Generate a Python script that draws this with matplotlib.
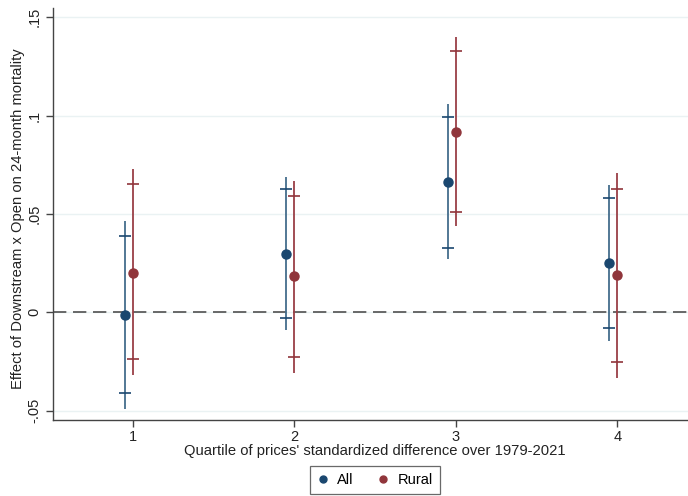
import matplotlib
matplotlib.use("Agg")
import matplotlib.pyplot as plt
from matplotlib.lines import Line2D
import numpy as np

quartiles = [1, 2, 3, 4]
xtick_labels = ["1", "2", "3", "4"]
yticks = [-0.05, 0, 0.05, 0.1, 0.15]
ytick_labels = ["-.05", "0", ".05", ".1", ".15"]

all_est = [-0.0014, 0.0298, 0.0663, 0.0249]
all_lo95 = [-0.0490, -0.0090, 0.0270, -0.0146]
all_hi95 = [0.0464, 0.0688, 0.1058, 0.0648]
all_lo90 = [-0.0412, -0.0027, 0.0329, -0.0081]
all_hi90 = [0.0388, 0.0626, 0.0995, 0.0583]

rur_est = [0.0202, 0.0182, 0.0917, 0.0188]
rur_lo95 = [-0.0319, -0.0307, 0.0436, -0.0332]
rur_hi95 = [0.0727, 0.0668, 0.1400, 0.0707]
rur_lo90 = [-0.0239, -0.0230, 0.0512, -0.0251]
rur_hi90 = [0.0650, 0.0592, 0.1326, 0.0626]

plt.rcParams['font.family'] = ['Liberation Sans', 'DejaVu Sans']

fig = plt.figure(figsize=(6.88, 4.96), dpi=100)
ax = fig.add_axes([52.7/688, (496-420)/496, 1 - 52.7/688, (420-8)/496])

blue = "#1a476f"
red = "#90353b"
blue_line = "#446d8c"
red_line = "#9a3f46"

for yt in yticks:
    ax.axhline(yt, color="#eaf2f3", lw=1.0, zorder=0)

ax.axhline(0, color="#505050", lw=1.2, ls=(0, (8, 4)), zorder=1)

x = np.array(quartiles, dtype=float)
series = [
    (x - 0.05, all_est, all_lo95, all_hi95, all_lo90, all_hi90, blue, blue_line),
    (x, rur_est, rur_lo95, rur_hi95, rur_lo90, rur_hi90, red, red_line),
]
for xs, est, lo95, hi95, lo90, hi90, c, lc in series:
    ax.vlines(xs, lo95, hi95, color=lc, lw=1.3, zorder=2)
    ax.plot(xs, lo90, ls="none", marker="_", ms=8, mew=1.2, color=c, zorder=3)
    ax.plot(xs, hi90, ls="none", marker="_", ms=8, mew=1.2, color=c, zorder=3)
    ax.plot(xs, est, ls="none", marker="o", ms=6.5, color=c, mec=c, zorder=4)

ax.set_xlim(0.5046, 4.438)
ax.set_ylim(-0.0548, 0.1547)
ax.set_xticks(quartiles)
ax.set_xticklabels(xtick_labels)
ax.set_yticks(yticks)
ax.set_yticklabels(ytick_labels, rotation=90, va="center")

for s in ["top", "right"]:
    ax.spines[s].set_visible(False)
for s in ["left", "bottom"]:
    ax.spines[s].set_color("#444444")
    ax.spines[s].set_linewidth(1.0)
ax.tick_params(axis="both", direction="out", length=5, width=1.0, color="#444444",
               labelsize=10.5, labelcolor="#222222")
ax.tick_params(axis="x", pad=2)
ax.tick_params(axis="y", pad=3)

fig.text(375/688, 1 - 451/496, "Quartile of prices' standardized difference over 1979-2021",
         ha="center", va="center", fontsize=10.6, color="#222222")
fig.text(18/688, 1 - 219/496, "Effect of Downstream x Open on 24-month mortality",
         ha="center", va="center", rotation=90, fontsize=10.6, color="#222222")

handles = [
    Line2D([], [], ls="none", marker="o", ms=5, color=blue, label="All"),
    Line2D([], [], ls="none", marker="o", ms=5, color=red, label="Rural"),
]
leg = fig.legend(handles=handles, loc="center", bbox_to_anchor=(375/688, 1 - 480/496),
                 ncol=2, frameon=True, fontsize=10.5, handlelength=0.8, handletextpad=0.6,
                 columnspacing=1.6, borderpad=0.45, fancybox=False, edgecolor="#444444")
leg.get_frame().set_linewidth(0.9)

fig.savefig("out.png", dpi=100, facecolor="white")
